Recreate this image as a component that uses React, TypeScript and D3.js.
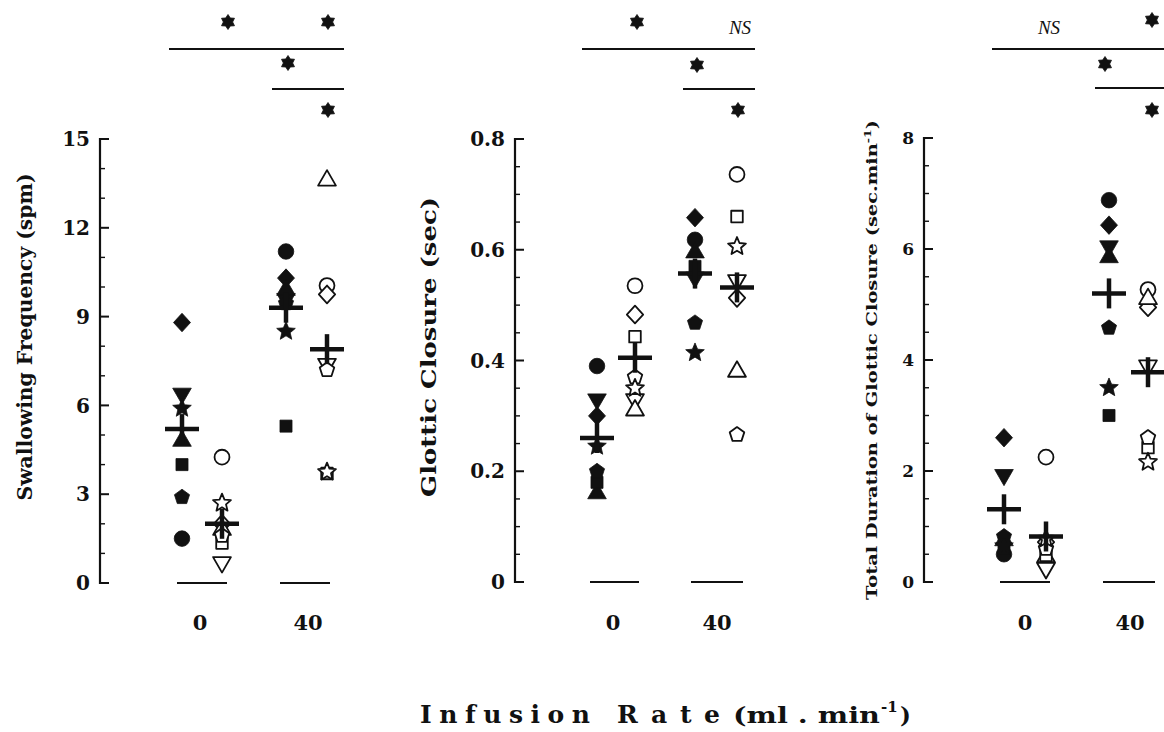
import React from "react";
import * as d3 from "d3";

// ---------- DATA ----------
// marker shape for each subject (same order in every series)
const subjectShapes = ["circle", "diamond", "invTriangle", "triangle", "square", "pentagon", "star"];
const rateLabels = ["0", "40"];

// Swallowing Frequency (spm): [rate 0 filled, rate 0 open, rate 40 filled, rate 40 open]
const sfRate0Filled = [1.5, 8.8, 6.4, 4.8, 4.0, 2.9, 5.9];
const sfRate0Open = [4.25, 2.0, 0.7, 1.8, 1.35, 1.6, 2.7];
const sfRate40Filled = [11.2, 10.3, 9.6, 9.9, 5.3, 9.45, 8.5];
const sfRate40Open = [10.05, 9.75, 7.4, 13.6, 3.7, 7.2, 3.75];
const sfMeans = [5.2, 2.0, 9.3, 7.9];
const sfTicks = [0, 3, 6, 9, 12, 15];
const sfSig = ["*", "*", "*", "*"];

// Glottic Closure (sec)
const gcRate0Filled = [0.39, 0.3, 0.33, 0.16, 0.18, 0.2, 0.245];
const gcRate0Open = [0.535, 0.483, 0.33, 0.31, 0.443, 0.37, 0.35];
const gcRate40Filled = [0.618, 0.658, 0.55, 0.595, 0.57, 0.468, 0.414];
const gcRate40Open = [0.736, 0.513, 0.545, 0.38, 0.66, 0.266, 0.606];
const gcMeans = [0.26, 0.405, 0.557, 0.532];
const gcTicks = [0, 0.2, 0.4, 0.6, 0.8];
const gcSig = ["*", "NS", "*", "*"];

// Total Duration of Glottic Closure (sec.min-1)
const tdRate0Filled = [0.5, 2.6, 1.93, 0.75, 0.6, 0.82, 0.65];
const tdRate0Open = [2.25, 0.72, 0.25, 0.45, 0.48, 0.6, 0.78];
const tdRate40Filled = [6.88, 6.43, 6.05, 5.85, 3.0, 4.58, 3.5];
const tdRate40Open = [5.27, 4.95, 3.9, 5.1, 2.42, 2.6, 2.16];
const tdMeans = [1.31, 0.82, 5.2, 3.78];
const tdTicks = [0, 2, 4, 6, 8];
const tdSig = ["NS", "*", "*", "*"];

// ---------- LAYOUT ----------
const W = 1164;
const H = 732;
const SERIF = "'DejaVu Serif', 'Liberation Serif', serif";

const panels = [
  {
    key: "sf",
    title: "Swallowing Frequency (spm)",
    titleX: 25, titleY: 337, titleLen: 327, titleSize: 21,
    axisX: 100, y0: 583, y1: 139, max: 15, minor: 1,
    ticks: sfTicks, tickSize: 20,
    cols: [182, 222, 286, 327],
    base: [[177, 227], [280, 330]],
    catX: [200, 308],
    series: [sfRate0Filled, sfRate0Open, sfRate40Filled, sfRate40Open],
    means: sfMeans,
    sig: sfSig,
    sigLines: [[169, 344, 49], [272, 344, 89]],
    sigPos: [[228, 22], [328, 22], [288, 63], [328, 110]],
  },
  {
    key: "gc",
    title: "Glottic Closure (sec)",
    titleX: 429, titleY: 347, titleLen: 300, titleSize: 21,
    axisX: 515, y0: 582, y1: 139, max: 0.8, minor: 0.05,
    ticks: gcTicks, tickSize: 20,
    cols: [597, 635, 695, 737],
    base: [[590, 639], [691, 743]],
    catX: [613, 717],
    series: [gcRate0Filled, gcRate0Open, gcRate40Filled, gcRate40Open],
    means: gcMeans,
    sig: gcSig,
    sigLines: [[582, 755, 49], [683, 755, 89]],
    sigPos: [[637, 22], [740, 27], [697, 65], [738, 110]],
  },
  {
    key: "td",
    title: "Total Duration of Glottic Closure (sec.min",
    titleSup: "-1",
    titleEnd: ")",
    titleX: 872, titleY: 360, titleLen: 480, titleSize: 15,
    axisX: 924, y0: 582, y1: 138, max: 8, minor: 0.5,
    ticks: tdTicks, tickSize: 17,
    cols: [1004, 1046, 1109, 1148],
    base: [[1000, 1050], [1103, 1155]],
    catX: [1025, 1130],
    series: [tdRate0Filled, tdRate0Open, tdRate40Filled, tdRate40Open],
    means: tdMeans,
    sig: tdSig,
    sigLines: [[992, 1170, 49], [1095, 1170, 88]],
    sigPos: [[1049, 27], [1152, 20], [1105, 64], [1152, 110]],
  },
];

// ---------- SYMBOLS ----------
const polygonType = (n: number, rot: number) => ({
  draw(ctx: any, size: number) {
    const r = Math.sqrt(size / (0.5 * n * Math.sin((2 * Math.PI) / n)));
    for (let i = 0; i < n; i++) {
      const a = rot + (i * 2 * Math.PI) / n;
      const x = r * Math.sin(a);
      const y = -r * Math.cos(a);
      if (i === 0) ctx.moveTo(x, y);
      else ctx.lineTo(x, y);
    }
    ctx.closePath();
  },
});

const starType = (points: number, innerRatio: number) => ({
  draw(ctx: any, size: number) {
    const R = Math.sqrt(size) * 0.75;
    const r = R * innerRatio;
    for (let i = 0; i < points * 2; i++) {
      const rad = i % 2 === 0 ? R : r;
      const a = (i * Math.PI) / points;
      const x = rad * Math.sin(a);
      const y = -rad * Math.cos(a);
      if (i === 0) ctx.moveTo(x, y);
      else ctx.lineTo(x, y);
    }
    ctx.closePath();
  },
});

const diamondType = {
  draw(ctx: any, size: number) {
    const h = Math.sqrt(size) * 0.72;
    const w = h * 0.92;
    ctx.moveTo(0, -h);
    ctx.lineTo(w, 0);
    ctx.lineTo(0, h);
    ctx.lineTo(-w, 0);
    ctx.closePath();
  },
};

const shapeDefs: Record<string, { type: any; size: number; rotate: number }> = {
  circle: { type: d3.symbolCircle, size: 190, rotate: 0 },
  diamond: { type: diamondType, size: 165, rotate: 0 },
  invTriangle: { type: d3.symbolTriangle, size: 150, rotate: 180 },
  triangle: { type: d3.symbolTriangle, size: 150, rotate: 0 },
  square: { type: d3.symbolSquare, size: 145, rotate: 0 },
  pentagon: { type: polygonType(5, 0), size: 150, rotate: 0 },
  star: { type: starType(5, 0.45), size: 170, rotate: 0 },
};

const asteriskPath = d3.symbol().type(starType(6, 0.62)).size(100)() as string;

function Marker({ shape, x, y, filled }: { shape: string; x: number; y: number; filled: boolean }) {
  const def = shapeDefs[shape];
  const size = filled ? def.size : def.size * 0.92;
  const d = d3.symbol().type(def.type).size(size)() as string;
  return (
    <path
      d={d}
      transform={`translate(${x},${y}) rotate(${def.rotate})`}
      fill={filled ? "#111" : "#fff"}
      stroke="#111"
      strokeWidth={filled ? 0.8 : 1.8}
      strokeLinejoin="round"
    />
  );
}

function Panel({ p }: { p: (typeof panels)[number] }) {
  const y = d3.scaleLinear().domain([0, p.max]).range([p.y0, p.y1]);
  const nMinor = Math.round(p.max / p.minor);
  const minorTicks = d3.range(nMinor + 1).map((i) => i * p.minor);
  const fmt = (v: number) => (v === 0 ? "0" : p.max < 1 ? d3.format(".1f")(v) : String(v));

  return (
    <g>
      {/* y axis */}
      <line x1={p.axisX} x2={p.axisX} y1={y(p.max) - 1} y2={y(0) + 1} stroke="#111" strokeWidth={2.2} />
      {minorTicks.map((t, i) => {
        const major = p.ticks.some((m) => Math.abs(m - t) < 1e-9);
        return (
          <line
            key={"mt" + i}
            x1={p.axisX}
            x2={p.axisX + (major ? 9 : 5)}
            y1={y(t)}
            y2={y(t)}
            stroke="#111"
            strokeWidth={major ? 2 : 1.4}
          />
        );
      })}
      {p.ticks.map((t, i) => (
        <text
          key={"tl" + i}
          x={p.axisX - 10}
          y={y(t)}
          dy="0.36em"
          textAnchor="end"
          fontFamily={SERIF}
          fontWeight="bold"
          fontSize={p.tickSize}
          fill="#111"
        >
          {fmt(t)}
        </text>
      ))}

      {/* y title */}
      <text
        transform={`translate(${p.titleX},${p.titleY}) rotate(-90)`}
        textAnchor="middle"
        dy="0.35em"
        fontFamily={SERIF}
        fontWeight="bold"
        fontSize={p.titleSize}
        fill="#111"
        textLength={p.titleLen}
        lengthAdjust="spacingAndGlyphs"
      >
        {p.title}
        {p.titleSup ? (
          <tspan fontSize={p.titleSize * 0.65} dy={-p.titleSize * 0.4}>
            {p.titleSup}
          </tspan>
        ) : null}
        {p.titleEnd ? <tspan dy={p.titleSize * 0.4}>{p.titleEnd}</tspan> : null}
      </text>

      {/* zero baselines per group */}
      {p.base.map(([a, b], i) => (
        <line key={"b" + i} x1={a} x2={b} y1={y(0)} y2={y(0)} stroke="#111" strokeWidth={1.8} />
      ))}
      {rateLabels.map((l, i) => (
        <text
          key={"cl" + i}
          x={p.catX[i]}
          y={630}
          textAnchor="middle"
          fontFamily={SERIF}
          fontWeight="bold"
          fontSize={21}
          fill="#111"
        >
          {l}
        </text>
      ))}

      {/* markers */}
      {p.series.map((vals, gi) =>
        vals.map((v, si) => (
          <Marker
            key={`m${gi}-${si}`}
            shape={subjectShapes[si]}
            x={p.cols[gi]}
            y={y(v)}
            filled={gi % 2 === 0}
          />
        ))
      )}

      {/* means */}
      {p.means.map((m, gi) => (
        <g key={"mean" + gi} stroke="#111" strokeWidth={4.5}>
          <line x1={p.cols[gi] - 17} x2={p.cols[gi] + 17} y1={y(m)} y2={y(m)} />
          <line x1={p.cols[gi]} x2={p.cols[gi]} y1={y(m) - 15} y2={y(m) + 15} />
        </g>
      ))}

      {/* significance */}
      {p.sigLines.map(([a, b, yy], i) => (
        <line key={"sl" + i} x1={a} x2={b} y1={yy} y2={yy} stroke="#111" strokeWidth={1.8} />
      ))}
      {p.sig.map((s, i) =>
        s === "*" ? (
          <path key={"sg" + i} d={asteriskPath} transform={`translate(${p.sigPos[i][0]},${p.sigPos[i][1]})`} fill="#111" stroke="#111" strokeWidth={0.8} />
        ) : (
          <text
            key={"sg" + i}
            x={p.sigPos[i][0]}
            y={p.sigPos[i][1]}
            dy="0.35em"
            textAnchor="middle"
            fontFamily="'Liberation Serif', serif"
            fontStyle="italic"
            fontSize={19}
            fill="#111"
          >
            {s}
          </text>
        )
      )}
    </g>
  );
}

export default function App() {
  return (
    <svg
      width={W}
      height={H}
      viewBox={`0 0 ${W} ${H}`}
      style={{ position: "absolute", left: 0, top: 0, background: "#fff" }}
    >
      <rect width={W} height={H} fill="#fff" />
      {panels.map((p) => (
        <Panel key={p.key} p={p} />
      ))}
      {/* x axis title */}
      <g fontFamily={SERIF} fontWeight="bold" fill="#111">
        <text x={420} y={723} fontSize={25} textLength={170} lengthAdjust="spacing">
          Infusion
        </text>
        <text x={617} y={723} fontSize={25} textLength={103} lengthAdjust="spacing">
          Rate
        </text>
        <text x={733} y={723} fontSize={23} textLength={147} lengthAdjust="spacingAndGlyphs">
          (ml . min
        </text>
        <text x={881} y={712} fontSize={15}>
          -1
        </text>
        <text x={900} y={723} fontSize={23}>
          )
        </text>
      </g>
    </svg>
  );
}
